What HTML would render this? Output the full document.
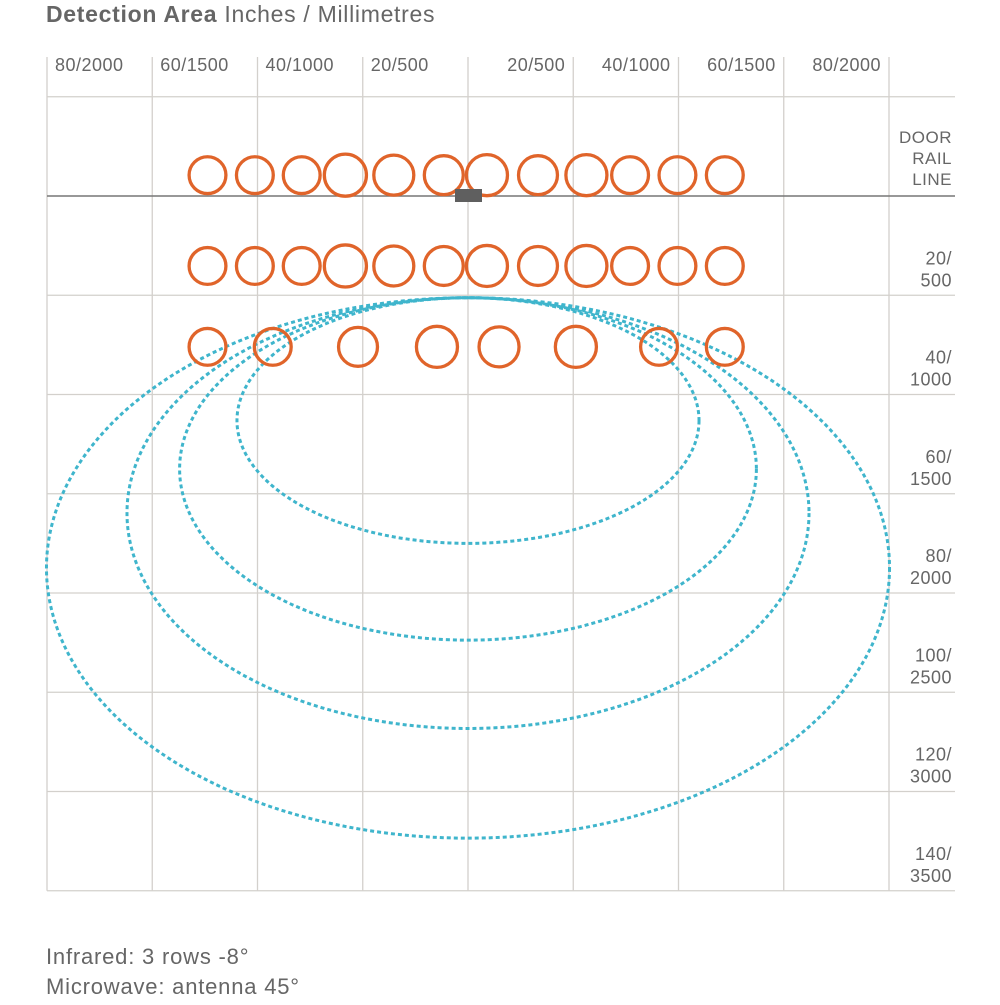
<!DOCTYPE html>
<html><head><meta charset="utf-8">
<style>
body{margin:0;background:#fff;width:1000px;height:1000px;overflow:hidden;font-family:"Liberation Sans",sans-serif}
svg text{font-family:"Liberation Sans",sans-serif;fill:#666}
</style></head>
<body>
<svg id="chart" width="1000" height="1000" viewBox="0 0 1000 1000" xmlns="http://www.w3.org/2000/svg">
<text x="46" y="22" font-size="23" letter-spacing="0.7"><tspan font-weight="bold">Detection Area</tspan> Inches / Millimetres</text>
<g id="grid"></g>
<g id="marks"></g>
<text x="46" y="964" font-size="22" letter-spacing="0.8">Infrared: 3 rows -8°</text>
<text x="46" y="994" font-size="22" letter-spacing="0.8">Microwave: antenna 45°</text>
</svg>
<script>
const xTicks = [-80,-60,-40,-20,0,20,40,60,80];
const xTickLabels = ["80/2000","60/1500","40/1000","20/500","","20/500","40/1000","60/1500","80/2000"];
const yTicks = [-20,0,20,40,60,80,100,120,140];
const yTickLabels = [["DOOR","RAIL","LINE"],["20/","500"],["40/","1000"],["60/","1500"],["80/","2000"],["100/","2500"],["120/","3000"],["140/","3500"]];
const row1X = [-49.5,-40.5,-31.6,-23.3,-14.1,-4.6,3.6,13.3,22.5,30.8,39.8,48.8];
const row1R = [3.5,3.5,3.5,4.0,3.8,3.7,3.9,3.7,3.9,3.5,3.5,3.5];
const row2X = [-49.5,-40.5,-31.6,-23.3,-14.1,-4.6,3.6,13.3,22.5,30.8,39.8,48.8];
const row2R = [3.5,3.5,3.5,4.0,3.8,3.7,3.9,3.7,3.9,3.5,3.5,3.5];
const row3X = [-49.5,-37.1,-20.9,-5.9,5.9,20.5,36.3,48.8];
const row3R = [3.5,3.5,3.7,3.9,3.8,3.9,3.5,3.5];
const rowY = [-4.2,14.1,30.4];
const lobeTop = [20.5,20.5,20.5,20.5];
const lobeBottom = [70,89.5,107.3,129.4];
const lobeHalfWidth = [43.9,54.8,64.8,80.1];

const X0=468, PX=105.25/20, Y0=196, PY=99.25/20;
const sx=v=>X0+v*PX, sy=v=>Y0+v*PY;
const NS="http://www.w3.org/2000/svg";
const grid=document.getElementById('grid'), marks=document.getElementById('marks');
function mk(tag,attrs,parent){const e=document.createElementNS(NS,tag);for(const k in attrs)e.setAttribute(k,attrs[k]);parent.appendChild(e);return e;}

xTicks.forEach((t,i)=>{
  const l=mk('line',{x1:sx(t),x2:sx(t),y1:57,y2:sy(140),stroke:'#d3d0cc','stroke-width':1.3},grid);
  
  
  if(xTickLabels[i]){
    const tx=mk('text',{x:sx(t)+8,y:71,'font-size':18,'letter-spacing':0.5},grid);
    tx.textContent=xTickLabels[i];
    if(t>0){tx.setAttribute('text-anchor','end');tx.setAttribute('x',sx(t)-8);}
    
    
  }
});
yTicks.forEach((t,i)=>{
  const l=mk('line',{x1:47,x2:955,y1:sy(t),y2:sy(t),stroke:t===0?'#777':'#d3d0cc','stroke-width':t===0?1.6:1.3},grid);
  
  
  const lab=yTickLabels[i];
  if(lab){
    const n=lab.length, bottom=sy(t+20)-9, lh=n===3?21:22;
    lab.forEach((s,j)=>{
      const tx=mk('text',{x:952,y:(n===3?sy(t)+46+j*lh:bottom-(n-1-j)*lh),'font-size':n===3?17:18,'text-anchor':'end','letter-spacing':0.5},grid);
      tx.textContent=s;
      
      
    });
  }
});

lobeTop.forEach((top,i)=>{
  const cy=(sy(top)+sy(lobeBottom[i]))/2, ry=(sy(lobeBottom[i])-sy(top))/2;
  const e=mk('ellipse',{cx:sx(0),cy:cy,rx:lobeHalfWidth[i]*PX,ry:ry,fill:'none',stroke:'#3fb5cc','stroke-width':3,'stroke-dasharray':'4 3'},marks);
  
  
});
[[row1X,row1R],[row2X,row2R],[row3X,row3R]].forEach(([xs,rs],r)=>{
  xs.forEach((x,i)=>{
    const c=mk('circle',{cx:sx(x),cy:sy(rowY[r]),r:rs[i]*PX,fill:'none',stroke:'#e0642a','stroke-width':3.3},marks);
    
    
  });
});
const s=mk('rect',{x:sx(0)-13,y:189,width:27,height:13,fill:'#5f5f5f'},marks);


</script>
</body></html>
